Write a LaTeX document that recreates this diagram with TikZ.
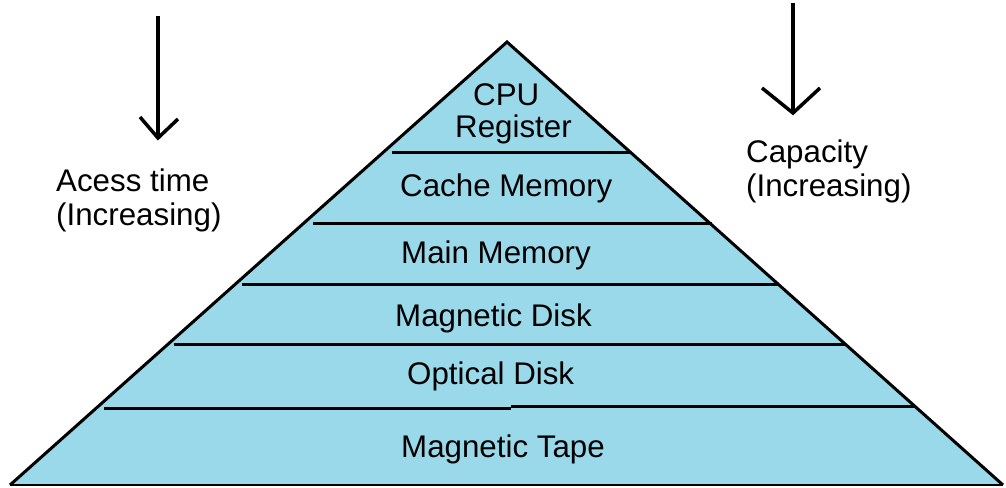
\documentclass[tikz,border=0pt]{standalone}
\usepackage{fontspec}
\setmainfont{Liberation Sans}
\definecolor{layerblue}{HTML}{99D9EA}
\begin{document}
\begin{tikzpicture}[x=1pt,y=-1pt,
  lbl/.style={anchor=base west,inner sep=0pt,font=\fontsize{31.3}{31.3}\selectfont,text=black},
  divider/.style={line width=3pt},
  pointer/.style={line width=3.5pt,line cap=butt}]
\useasboundingbox (0,0) rectangle (1006,487);
% pyramid body
\coordinate (apex) at (507,42);
\coordinate (bl) at (10,485);
\coordinate (br) at (1003,485);
\fill[layerblue] (apex) -- (br) -- (bl) -- cycle;
\draw[line width=3pt,line join=miter] (bl) -- (apex) -- (br);
\draw[line width=2pt] (bl) -- (br);
% layer dividers
\draw[divider] (392,152) -- (630,152);
\draw[divider] (313,223) -- (712,223);
\draw[divider] (242,284) -- (778,284);
\draw[divider] (174,344) -- (845,344);
\draw[divider] (104,408) -- (511,408);
\draw[divider] (511,406.5) -- (916,406.5);
% layer labels
\node[lbl] (cpu) at (473,105) {CPU};
\node[lbl] (reg) at (455,137) {Register};
\node[lbl] (cache) at (400,196) {Cache Memory};
\node[lbl] (main) at (401,263) {Main Memory};
\node[lbl] (mdisk) at (395,326) {Magnetic Disk};
\node[lbl] (odisk) at (407,384) {Optical Disk};
\node[lbl] (tape) at (401,457) {Magnetic Tape};
% side annotations
\node[lbl] (acc) at (56,191) {Acess time};
\node[lbl] (accinc) at (56,225) {(Increasing)};
\node[lbl] (cap) at (746,162) {Capacity};
\node[lbl] (capinc) at (746,196) {(Increasing)};
% direction arrows
\coordinate (la) at (158,16);
\coordinate (lt) at (158,138);
\draw[pointer] (la) -- (lt);
\draw[pointer,line join=miter] (140,117) -- (lt) -- (178,119);
\coordinate (ra) at (793,3);
\coordinate (rt) at (793,113);
\draw[pointer] (ra) -- (rt);
\draw[pointer,line join=miter] (762,88) -- (rt) -- (820,88);
\end{tikzpicture}
\end{document}
